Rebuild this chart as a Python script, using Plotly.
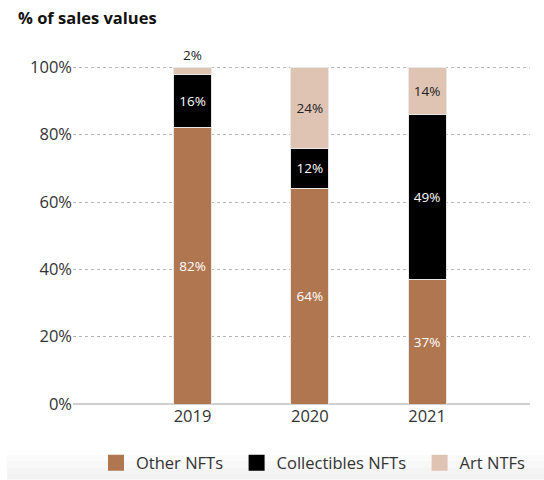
import plotly.graph_objects as go

# Share of NFT sales value by segment
years = ["2019", "2020", "2021"]
other_nfts = [82, 64, 37]
collectibles_nfts = [16, 12, 49]
art_nfts = [2, 24, 14]

y_ticks = [0, 20, 40, 60, 80, 100]
y_tick_labels = ["0%", "20%", "40%", "60%", "80%", "100%"]

series_names = ["Other NFTs", "Collectibles NFTs", "Art NTFs"]
series_colors = ["#B07650", "#000000", "#DFC4B4"]
text_colors = ["#ffffff", "#ffffff", "#222222"]

FONT = "Open Sans"
PAD = "\u00a0" * 2  # extra room between legend entries

fig = go.Figure()

for i, (name, vals, color, tcol) in enumerate(zip(series_names,
                                   [other_nfts, collectibles_nfts, art_nfts],
                                   series_colors, text_colors)):
    positions = ["inside"] * len(vals)
    if name == "Art NTFs":
        positions = ["outside" if v < 5 else "inside" for v in vals]
    fig.add_trace(go.Bar(
        x=years, y=vals, name=name,
        marker=dict(color=color, line=dict(color="#e8e8e8", width=1)),
        text=[f"{v}%" for v in vals],
        textposition=positions,
        insidetextanchor="middle",
        textfont=dict(family=FONT, size=13.5, color=tcol),
        outsidetextfont=dict(family=FONT, size=13.5, color="#222222"),
        cliponaxis=False,
        width=0.324,
        showlegend=False,
        hoverinfo="skip",
    ))
    # legend entry with a larger square swatch
    label = name + (PAD if i < len(series_names) - 1 else "")
    fig.add_trace(go.Scatter(
        x=[None], y=[None], mode="markers", name=label,
        marker=dict(symbol="square", size=16, color=color),
        showlegend=True,
    ))

# soft grey strip behind the legend
band = [(-0.150, -0.168, "#fbfbfb"), (-0.168, -0.186, "#f7f7f7"),
        (-0.186, -0.204, "#f4f4f4"), (-0.204, -0.222, "#f2f2f2")]
for y0, y1, c in band:
    fig.add_shape(type="rect", xref="paper", yref="paper",
                  x0=-0.144, x1=1.04, y0=y1, y1=y0,
                  fillcolor=c, line=dict(width=0), layer="below")

fig.update_layout(
    width=544, height=480,
    margin=dict(l=73, r=14, t=64, b=76),
    barmode="stack",
    plot_bgcolor="white", paper_bgcolor="white",
    font=dict(family=FONT, color="#333333"),
    title=dict(text="<b>% of sales values</b>", x=18 / 544, xref="container",
               xanchor="left", y=1 - 18 / 480, yref="container", yanchor="middle",
               font=dict(family=FONT, size=16.5, color="#111111")),
    legend=dict(orientation="h", xref="container", yref="container",
                x=530 / 544, xanchor="right", y=1 - 463 / 480, yanchor="middle",
                font=dict(family=FONT, size=16.5, color="#333333"),
                bgcolor="rgba(0,0,0,0)", itemwidth=30, traceorder="normal"),
)

fig.update_xaxes(
    type="category", range=[-1.019, 2.877],
    showgrid=False, showline=False, ticks="",
    tickfont=dict(family=FONT, size=16.5, color="#333333"),
)
fig.update_yaxes(
    range=[0, 101], tickmode="array", tickvals=y_ticks, ticktext=y_tick_labels,
    showgrid=True, gridcolor="#b5b5b5", griddash="dot", gridwidth=1,
    zeroline=True, zerolinecolor="#d0d0d0", zerolinewidth=2,
    showline=False, ticks="",
    tickfont=dict(family=FONT, size=16.5, color="#333333"),
)

fig.write_html("out.html")
